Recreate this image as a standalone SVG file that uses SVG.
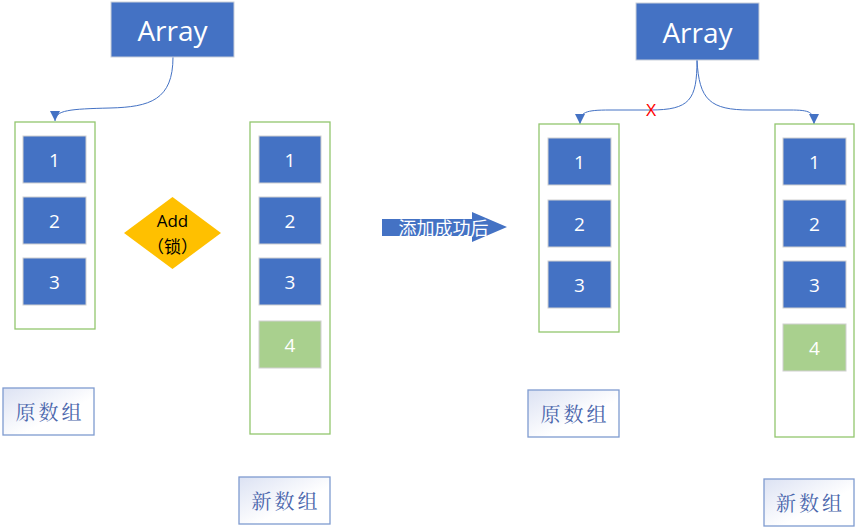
<svg xmlns="http://www.w3.org/2000/svg" width="858" height="528" viewBox="0 0 858 528">
<style>
.title{fill:#4472C4;stroke:#C9CFDA;stroke-width:1}
.title-t{font-family:"Open Sans","Noto Sans",sans-serif;font-size:28px;fill:#fff;text-anchor:middle;dominant-baseline:central}
.cont{fill:#fff;stroke:#92C66E;stroke-width:1.3}
.item{fill:#4472C4;stroke:#D0D0D0;stroke-width:1}
.new{fill:#A9D08E;stroke:#D0D0D0;stroke-width:1}
.num{font-family:"Open Sans","Noto Sans",sans-serif;font-size:19px;fill:#fff;text-anchor:middle;dominant-baseline:central}
.lbl{fill:url(#lg);stroke:#7F9BD0;stroke-width:1.3}
.lbl-t{font-family:"Noto Serif CJK SC","Noto Sans CJK SC",serif;font-size:20px;fill:#4A66AC;text-anchor:middle;dominant-baseline:central;letter-spacing:3px}
.conn{fill:none;stroke:#4472C4;stroke-width:1}
</style>
<defs>
<linearGradient id="lg" x1="0" y1="0" x2="1" y2="1">
<stop offset="0" stop-color="#DCE2F3"/>
<stop offset="0.6" stop-color="#FFFFFF"/>
<stop offset="1" stop-color="#FFFFFF"/>
</linearGradient>
<marker id="ah" viewBox="0 0 10 10" refX="10" refY="5" markerWidth="10" markerHeight="10" markerUnits="userSpaceOnUse" orient="auto">
<path d="M0,0 L10,5 L0,10 z" fill="#4472C4"/>
</marker>
</defs>

<g id="connectors">
<path class="conn" marker-end="url(#ah)" d="M173,57 C173,100 150,107 110,108 C70,109 55,110 55,121"/>
<path class="conn" marker-end="url(#ah)" d="M697,60 C697,100 690,110 650,110 L610,110 C585,110 580,112 580,124"/>
<path class="conn" marker-end="url(#ah)" d="M697,60 C699,100 710,110 750,110 L790,110 C810,110 814,112 814,124"/>
<text x="651" y="110" font-family="'Liberation Sans',sans-serif" font-size="16" fill="#FF0000" text-anchor="middle" dominant-baseline="central">X</text>
</g>

<g id="array-left">
<rect class="title" x="111" y="2" width="123" height="55"/>
<text class="title-t" x="172.5" y="29.5">Array</text>
</g>

<g id="orig-array-left">
<rect class="cont" x="15" y="122" width="80" height="207"/>
<rect class="item" x="23" y="136" width="63" height="47"/><text class="num" x="54.5" y="159.5">1</text>
<rect class="item" x="23" y="197" width="63" height="47"/><text class="num" x="54.5" y="220.5">2</text>
<rect class="item" x="23" y="258" width="63" height="47"/><text class="num" x="54.5" y="281.5">3</text>
</g>

<g id="add-lock">
<polygon points="172.5,197 221,233 172.5,269 124,233" fill="#FFC000"/>
<text x="172.5" y="220" font-family="'Open Sans','Noto Sans',sans-serif" font-size="17" fill="#000" text-anchor="middle" dominant-baseline="central">Add</text>
<text x="172.5" y="245" font-family="'Noto Sans CJK SC',sans-serif" font-size="17" fill="#000" text-anchor="middle" dominant-baseline="central">（锁）</text>
</g>

<g id="new-array-left">
<rect class="cont" x="250" y="122" width="80" height="312"/>
<rect class="item" x="259" y="136" width="62" height="47"/><text class="num" x="290" y="159.5">1</text>
<rect class="item" x="259" y="197" width="62" height="47"/><text class="num" x="290" y="220.5">2</text>
<rect class="item" x="259" y="258" width="62" height="47"/><text class="num" x="290" y="281.5">3</text>
<rect class="new" x="259" y="321" width="62" height="47"/><text class="num" x="290" y="344.5">4</text>
</g>

<g id="label-orig-left">
<rect class="lbl" x="3" y="388" width="91" height="47"/>
<text class="lbl-t" x="50" y="411.5">原数组</text>
</g>

<g id="label-new-left">
<rect class="lbl" x="239" y="477" width="91" height="47"/>
<text class="lbl-t" x="286" y="500.5">新数组</text>
</g>

<g id="success-arrow">
<polygon points="382,219 472,219 472,212 507,227 472,242 472,236 382,236" fill="#4472C4"/>
<text x="443.5" y="227" font-family="'Noto Sans CJK SC',sans-serif" font-size="18" fill="#fff" text-anchor="middle" dominant-baseline="central">添加成功后</text>
</g>

<g id="array-right">
<rect class="title" x="636" y="3" width="123" height="57"/>
<text class="title-t" x="697.5" y="31.5">Array</text>
</g>

<g id="orig-array-right">
<rect class="cont" x="539" y="124" width="80" height="208"/>
<rect class="item" x="548" y="138" width="63" height="47"/><text class="num" x="579.5" y="161.5">1</text>
<rect class="item" x="548" y="200" width="63" height="47"/><text class="num" x="579.5" y="223.5">2</text>
<rect class="item" x="548" y="261" width="63" height="47"/><text class="num" x="579.5" y="284.5">3</text>
</g>

<g id="new-array-right">
<rect class="cont" x="775" y="124" width="79" height="313"/>
<rect class="item" x="783" y="138" width="63" height="47"/><text class="num" x="814.5" y="161.5">1</text>
<rect class="item" x="783" y="200" width="63" height="47"/><text class="num" x="814.5" y="223.5">2</text>
<rect class="item" x="783" y="261" width="63" height="47"/><text class="num" x="814.5" y="284.5">3</text>
<rect class="new" x="783" y="324" width="63" height="47"/><text class="num" x="814.5" y="347.5">4</text>
</g>

<g id="label-orig-right">
<rect class="lbl" x="528" y="390" width="91" height="47"/>
<text class="lbl-t" x="575" y="413.5">原数组</text>
</g>

<g id="label-new-right">
<rect class="lbl" x="764" y="479" width="90" height="47"/>
<text class="lbl-t" x="810.5" y="502.5">新数组</text>
</g>
</svg>
